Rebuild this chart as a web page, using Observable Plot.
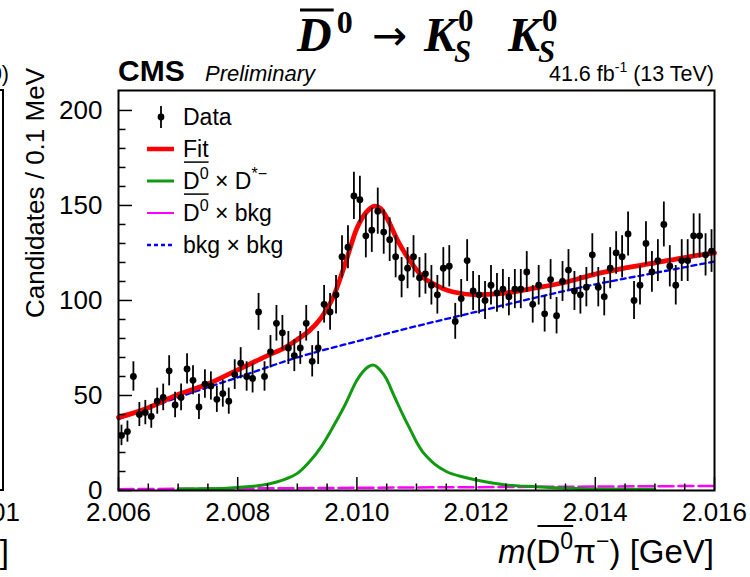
<!DOCTYPE html>
<html>
<head>
<meta charset="utf-8">
<script src="https://cdn.jsdelivr.net/npm/d3@7"></script>
<script src="https://cdn.jsdelivr.net/npm/@observablehq/plot@0.6"></script>
<style>
html,body{margin:0;padding:0;background:#fff;}
#chart{width:750px;height:577px;overflow:hidden;}
#chart svg{display:block;}
</style>
</head>
<body>
<div id="chart"></div>
<script>
// ---- binning of the histogram (0.1 MeV bins) ----
const binLow = 2.006;
const binWidth = 0.0001;
// ---- data: candidates per bin (100 bins) ----
const counts = [29,31,60,40,41,39,47,49,63,45,
                49,64,58,44,56,55,48,51,47,61,
                67,60,59,94,60,73,88,83,75,71,
                75,88,68,75,98,94,103,123,128,155,
                153,134,137,147,136,132,123,112,117,123,
                112,114,108,103,117,118,89,101,121,105,
                103,100,108,104,106,102,106,106,115,98,
                108,93,111,92,110,116,105,103,107,124,
                107,102,117,125,123,135,100,108,130,115,
                121,140,118,108,121,121,134,134,124,126];
// ---- total fit (red) ----
const fitX = [2.0060,2.0064,2.0070,2.0075,2.0080,2.0085,2.0088,2.0090,2.0092,2.0094,2.0096,2.0098,2.0100,2.0101,2.0102,2.0103,2.0104,2.0105,2.0107,2.0109,2.0111,2.0113,2.0116,2.0120,2.0124,2.0130,2.0135,2.0140,2.0145,2.0150,2.0155,2.0160];
const fitY = [38.5,42.3,50.5,56,63.5,71,75.3,79.5,84,90.8,101.5,119,138,144,147.8,149.6,148.3,143.5,130.6,120.4,112.5,108.5,104.6,103,103.6,106.6,109.6,113.9,117.1,119.8,122.6,125];
// ---- D0bar x D*- component (green) ----
const sigX = [2.0070,2.0075,2.0080,2.0085,2.0088,2.0090,2.0092,2.0094,2.0096,2.0098,2.0100,2.0101,2.0102,2.01027,2.0104,2.0105,2.0106,2.0107,2.0108,2.0109,2.0110,2.0111,2.0112,2.0113,2.0115,2.0118,2.0120,2.0125,2.0130,2.0140,2.0150];
const sigY = [0.8,0.9,1.6,3.3,6,9,15,23,33.5,45,58,62.5,65.3,66,63,58.5,51.5,44.6,38,31.8,25.5,20.5,17,14,10,7,5.5,2.9,2,0.8,0.6];
// ---- bkg x bkg component (blue dashed) ----
const bkgX = [2.006,2.007,2.008,2.009,2.010,2.011,2.012,2.013,2.014,2.015,2.016];
const bkgY = [37.5,49,59.5,70,78.5,86.5,94,101.5,108.5,114.5,120.5];
// ---- D0bar x bkg component (magenta dashed) ----
const mixX = [2.006,2.011,2.016];
const mixY = [0.7,1.6,2.4];
// ---- axis ticks ----
const xMajorTicks = [2.006,2.008,2.010,2.012,2.014,2.016];
const xMinorTicks = [2.0065,2.007,2.0075,2.0085,2.009,2.0095,2.0105,2.011,2.0115,2.0125,2.013,2.0135,2.0145,2.015,2.0155];
const yMajorTicks = [0,50,100,150,200];
const yMinorTicks = [10,20,30,40,60,70,80,90,110,120,130,140,160,170,180,190];

const sans = "'Liberation Sans', Arial, Helvetica, sans-serif";
const serif = "'Liberation Serif', 'DejaVu Serif', serif";
const GREEN = "#109a10", RED = "#ff0000", BLUE = "#0000ff", MAG = "#ff00ff";

const hist = counts.map((n, i) => ({m: binLow + binWidth * (i + 0.5), n, lo: n - Math.sqrt(n), hi: n + Math.sqrt(n)}));
const pairs = (xs, ys) => xs.map((m, i) => ({m, v: ys[i]}));
const fit = pairs(fitX, fitY), sig = pairs(sigX, sigY), bkg = pairs(bkgX, bkgY), mix = pairs(mixX, mixY);

const plot = Plot.plot({
  width: 750, height: 577,
  marginLeft: 118, marginRight: 36, marginTop: 90, marginBottom: 87,
  style: {fontFamily: sans, fontSize: "26px", background: "white", overflow: "visible", color: "black"},
  x: {domain: [2.006, 2.016]},
  y: {domain: [0, 210.5]},
  marks: [
    Plot.line(mix, {x: "m", y: "v", stroke: MAG, strokeWidth: 2.5, strokeDasharray: "15,5"}),
    Plot.line(sig, {x: "m", y: "v", stroke: GREEN, strokeWidth: 3, curve: "monotone-x"}),
    Plot.line(bkg, {x: "m", y: "v", stroke: BLUE, strokeWidth: 2.3, strokeDasharray: "5,4", curve: "monotone-x"}),
    Plot.line(fit, {x: "m", y: "v", stroke: RED, strokeWidth: 4.8, curve: "monotone-x"}),
    Plot.ruleX(hist, {x: "m", y1: "lo", y2: "hi", stroke: "black", strokeWidth: 1.8}),
    Plot.dot(hist, {x: "m", y: "n", r: 3.4, fill: "black", stroke: null}),
    Plot.axisX(xMajorTicks, {tickSize: -13, tickPadding: 25, strokeWidth: 1.5, tickFormat: d3.format(".3f"), label: null, fontSize: 26}),
    Plot.axisX(xMinorTicks, {tickSize: -6.5, strokeWidth: 1.5, tickFormat: () => "", label: null}),
    Plot.axisY(yMajorTicks, {tickSize: -14, tickPadding: 30, strokeWidth: 1.5, tickFormat: d => String(d), label: null, fontSize: 26}),
    Plot.axisY(yMinorTicks, {tickSize: -7.5, strokeWidth: 1.5, tickFormat: () => "", label: null}),
    Plot.frame({stroke: "black", strokeWidth: 2})
  ]
});
document.getElementById("chart").appendChild(plot);
const svg = d3.select(plot);

// rich text helper: parts laid out left to right, optional overline
function rich(sel, x, y, parts, o) {
  const size = o.size;
  const g = sel.append("g").attr("font-family", o.family || sans).attr("fill", "black").attr("text-anchor", "start");
  let cx = 0, ov = null;
  for (const p of parts) {
    const fs = size * (p.s || 1);
    const t = g.append("text").attr("x", cx).attr("y", (p.dy || 0) * size).attr("font-size", fs).attr("text-anchor", "start").text(p.t);
    if (p.i) t.attr("font-style", "italic");
    if (p.b) t.attr("font-weight", "bold");
    const w = t.node().getComputedTextLength();
    if (p.o) ov = ov ? [ov[0], cx + w] : [cx, cx + w];
    cx += w + (p.k || 0);
  }
  if (ov) g.append("line").attr("x1", ov[0] + 1).attr("x2", ov[1]).attr("y1", -o.ovY * size).attr("y2", -o.ovY * size)
    .attr("stroke", "black").attr("stroke-width", o.ovW || 1.5);
  g.attr("transform", `translate(${o.anchor === "end" ? x - cx : x},${y})`);
  return g;
}
const NB = "\u00a0";

// ---- title ----
const T = svg.append("g").attr("font-family", serif).attr("font-weight", "bold").attr("fill", "black").attr("text-anchor", "start");
function put(txt, x, y, size, opt = {}) {
  const t = T.append("text").attr("x", x).attr("y", y).attr("font-size", size).attr("text-anchor", "start").text(txt);
  if (opt.i) t.attr("font-style", "italic");
  if (opt.n) t.attr("font-weight", "normal");
  if (opt.f) t.attr("font-family", opt.f);
  return t;
}
const tD = put("D", 297, 51, 48, {i: 1});
const wD = tD.node().getComputedTextLength();
T.append("line").attr("x1", 300).attr("x2", 297 + wD + 2).attr("y1", 10).attr("y2", 10).attr("stroke", "black").attr("stroke-width", 3);
put("0", 297 + wD + 5, 33, 32);
put("\u2192", 372, 50, 42, {n: 1, f: "'DejaVu Sans', sans-serif"});
[424, 508].forEach(kx => {
  const k = put("K", kx, 51, 48, {i: 1});
  const wK = k.node().getComputedTextLength();
  put("0", kx + wK + 2, 31, 31);
  put("S", kx + wK - 2, 62, 31, {i: 1});
});

// ---- CMS header ----
svg.append("text").attr("x", 118).attr("y", 81).attr("text-anchor", "start").attr("font-family", sans).attr("font-weight", "bold").attr("font-size", 30).text("CMS");
svg.append("text").attr("x", 205).attr("y", 81).attr("text-anchor", "start").attr("font-family", sans).attr("font-style", "italic").attr("font-size", 22).text("Preliminary");
rich(svg, 714, 81, [{t: "41.6 fb"}, {t: "-1", s: 0.65, dy: -0.42}, {t: NB + "(13 TeV)"}], {size: 21.5, anchor: "end"});

// ---- axis titles ----
rich(svg, 714, 563, [{t: "m", i: 1}, {t: "("}, {t: "D", o: 1}, {t: "0", s: 0.7, dy: -0.42, o: 1}, {t: "\u03c0"}, {t: "\u2212", s: 0.7, dy: -0.42}, {t: ")" + NB + "[GeV]"}],
  {size: 33, anchor: "end", ovY: 1.12, ovW: 2});
svg.append("text").attr("transform", "translate(44,68) rotate(-90)").attr("text-anchor", "end")
  .attr("font-family", sans).attr("font-size", 26).text("Candidates / 0.1 MeV");

// ---- legend ----
const L = svg.append("g");
const lx0 = 147, lx1 = 174, tx = 183, rows = [117, 149, 181, 213, 245];
L.append("line").attr("x1", 161).attr("x2", 161).attr("y1", rows[0] - 11).attr("y2", rows[0] + 11).attr("stroke", "black").attr("stroke-width", 1.8);
L.append("circle").attr("cx", 161).attr("cy", rows[0]).attr("r", 3.4).attr("fill", "black");
L.append("line").attr("x1", lx0).attr("x2", lx1).attr("y1", rows[1]).attr("y2", rows[1]).attr("stroke", RED).attr("stroke-width", 4.5);
L.append("line").attr("x1", lx0).attr("x2", lx1).attr("y1", rows[2]).attr("y2", rows[2]).attr("stroke", GREEN).attr("stroke-width", 3);
L.append("line").attr("x1", lx0).attr("x2", lx1).attr("y1", rows[3]).attr("y2", rows[3]).attr("stroke", MAG).attr("stroke-width", 2);
L.append("line").attr("x1", lx0).attr("x2", lx1).attr("y1", rows[4]).attr("y2", rows[4]).attr("stroke", BLUE).attr("stroke-width", 2.3).attr("stroke-dasharray", "4,3");
const ls = 23, lb = 8;
rich(L, tx, rows[0] + lb, [{t: "Data"}], {size: ls});
rich(L, tx, rows[1] + lb, [{t: "Fit"}], {size: ls});
rich(L, tx, rows[2] + lb, [{t: "D", o: 1}, {t: "0", s: 0.7, dy: -0.42, o: 1}, {t: NB + "\u00d7" + NB + "D"}, {t: "*\u2212", s: 0.7, dy: -0.42}], {size: ls, ovY: 1.17, ovW: 1.5});
rich(L, tx, rows[3] + lb, [{t: "D", o: 1}, {t: "0", s: 0.7, dy: -0.42, o: 1}, {t: NB + "\u00d7" + NB + "bkg"}], {size: ls, ovY: 1.17, ovW: 1.5});
rich(L, tx, rows[4] + lb, [{t: "bkg" + NB + "\u00d7" + NB + "bkg"}], {size: ls});

// ---- remnants of the neighbouring panel at the left edge ----
const N = svg.append("g").attr("font-family", sans).attr("fill", "black");
N.append("text").attr("x", 9).attr("y", 81).attr("text-anchor", "end").attr("font-size", 21.5).text("0)");
N.append("rect").attr("x", -60).attr("y", 90).attr("width", 63).attr("height", 400).attr("fill", "none").attr("stroke", "black").attr("stroke-width", 2);
N.append("text").attr("x", 20).attr("y", 521).attr("text-anchor", "end").attr("font-size", 26).text("2.01");
N.append("text").attr("x", 9).attr("y", 563).attr("text-anchor", "end").attr("font-size", 33).text("]");
</script>
</body>
</html>
